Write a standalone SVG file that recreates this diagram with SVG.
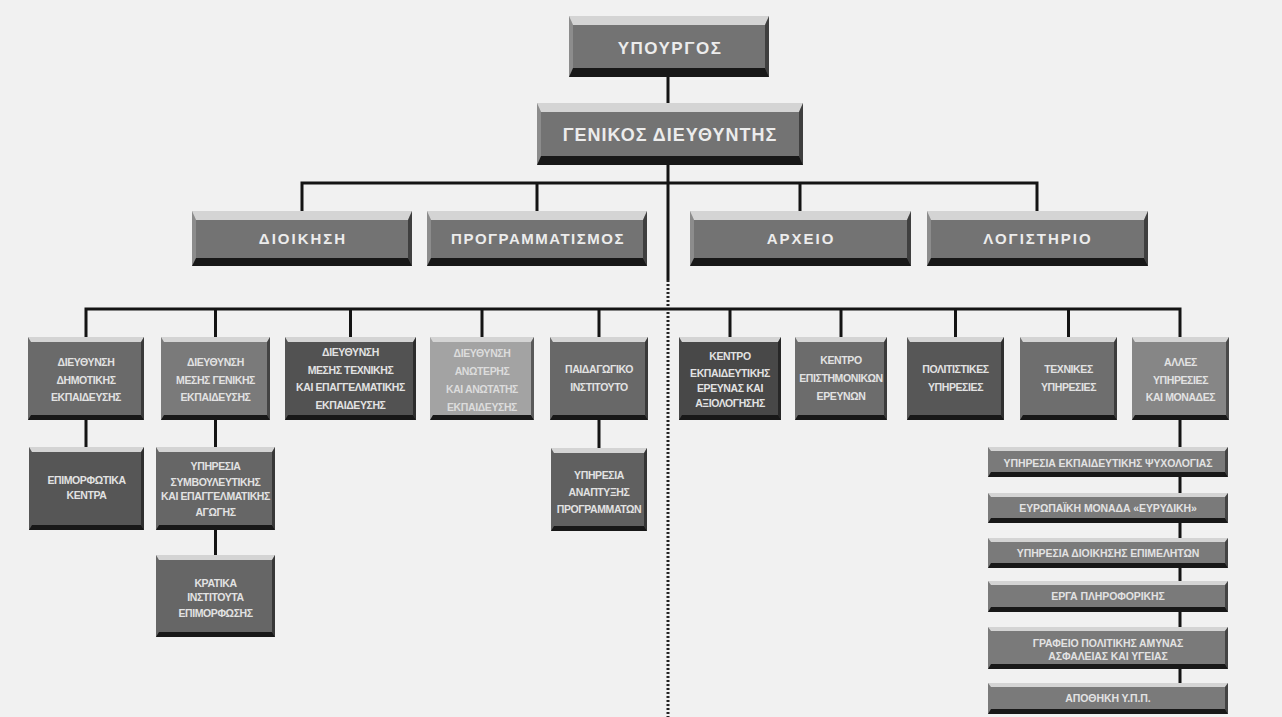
<svg xmlns="http://www.w3.org/2000/svg" width="1282" height="717" viewBox="0 0 1282 717">
<style>
.bg{fill:#f1f1f1}
.ln{stroke:#141414;stroke-width:3;fill:none}
.dot{stroke:#222;stroke-width:3;fill:none;stroke-dasharray:2 2}
.t{fill:#d4d4d4}
.b{fill:#181818}
.r{fill:#000;opacity:.45}
.l{fill:#fff;opacity:.18}
text{font-family:"Liberation Sans",Arial,sans-serif;font-weight:bold;fill:#ececec;text-anchor:middle}
.big{font-size:17px;letter-spacing:1.5px}
.mid{font-size:15px;letter-spacing:2px}
.sm{font-size:10.5px;letter-spacing:-0.4px;fill:#e2e2e2}
.rc{letter-spacing:-0.1px}
</style>
<rect class="bg" x="0" y="0" width="1282" height="717"/>
<g id="connectors">
<path class="ln" d="M668 77V103M668 165V280"/>
<path class="dot" d="M668 280V717"/>
<path class="ln" d="M302 211V183H1037V211M537 183V211M800 183V211"/>
<path class="ln" d="M86 337V309H1180V337M215.5 309V337M350.5 309V337M482 309V337M599 309V337M730 309V337M841 309V337M955.5 309V337M1068.5 309V337"/>
<path class="ln" d="M86 420V447M215.5 420V447M215.5 530V555M599 420V448M1180 420V683"/>
</g>
<g id="n-ypourgos">
<rect x="569" y="16" width="200" height="61" fill="#737373"/>
<polygon class="t" points="569,16 769,16 765,25 573,25"/>
<polygon class="b" points="569,77 769,77 765,68 573,68"/>
<polygon class="l" points="569,16 573,25 573,68 569,77"/>
<polygon class="r" points="769,16 765,25 765,68 769,77"/>
<text class="big" x="670" y="54">ΥΠΟΥΡΓΟΣ</text>
</g>
<g id="n-genikos">
<rect x="537" y="103" width="266" height="62" fill="#737373"/>
<polygon class="t" points="537,103 803,103 799,112 541,112"/>
<polygon class="b" points="537,165 803,165 799,156 541,156"/>
<polygon class="l" points="537,103 541,112 541,156 537,165"/>
<polygon class="r" points="803,103 799,112 799,156 803,165"/>
<text class="big" x="670" y="141" style="font-size:18px;letter-spacing:1px">ΓΕΝΙΚΟΣ ΔΙΕΥΘΥΝΤΗΣ</text>
</g>
<g id="n-dioikisi">
<rect x="192" y="211" width="220" height="55" fill="#737373"/>
<polygon class="t" points="192,211 412,211 408,220 196,220"/>
<polygon class="b" points="192,266 412,266 408,258 196,258"/>
<polygon class="l" points="192,211 196,220 196,258 192,266"/>
<polygon class="r" points="412,211 408,220 408,258 412,266"/>
<text class="mid" x="303" y="244">ΔΙΟΙΚΗΣΗ</text>
</g>
<g id="n-programmatismos">
<rect x="427" y="211" width="220" height="55" fill="#737373"/>
<polygon class="t" points="427,211 647,211 643,220 431,220"/>
<polygon class="b" points="427,266 647,266 643,258 431,258"/>
<polygon class="l" points="427,211 431,220 431,258 427,266"/>
<polygon class="r" points="647,211 643,220 643,258 647,266"/>
<text class="mid" x="538" y="244" style="letter-spacing:1.5px">ΠΡΟΓΡΑΜΜΑΤΙΣΜΟΣ</text>
</g>
<g id="n-arxeio">
<rect x="690" y="211" width="221" height="55" fill="#737373"/>
<polygon class="t" points="690,211 911,211 907,220 694,220"/>
<polygon class="b" points="690,266 911,266 907,258 694,258"/>
<polygon class="l" points="690,211 694,220 694,258 690,266"/>
<polygon class="r" points="911,211 907,220 907,258 911,266"/>
<text class="mid" x="801" y="244">ΑΡΧΕΙΟ</text>
</g>
<g id="n-logistirio">
<rect x="927" y="211" width="221" height="55" fill="#737373"/>
<polygon class="t" points="927,211 1148,211 1144,220 931,220"/>
<polygon class="b" points="927,266 1148,266 1144,258 931,258"/>
<polygon class="l" points="927,211 931,220 931,258 927,266"/>
<polygon class="r" points="1148,211 1144,220 1144,258 1148,266"/>
<text class="mid" x="1038" y="244">ΛΟΓΙΣΤΗΡΙΟ</text>
</g>
<g id="n-dimotiki">
<rect x="28" y="337" width="116" height="83" fill="#6a6a6a"/>
<polygon class="t" points="28,337 144,337 141,342 31,342"/>
<polygon class="b" points="28,420 144,420 141,415 31,415"/>
<polygon class="r" points="144,337 141,342 141,415 144,420"/>
<text class="sm"><tspan x="86" y="366">ΔΙΕΥΘΥΝΣΗ</tspan><tspan x="86" y="384">ΔΗΜΟΤΙΚΗΣ</tspan><tspan x="86" y="401">ΕΚΠΑΙΔΕΥΣΗΣ</tspan></text>
</g>
<g id="n-mesi-geniki">
<rect x="161" y="337" width="109" height="83" fill="#7a7a7a"/>
<polygon class="t" points="161,337 270,337 267,342 164,342"/>
<polygon class="b" points="161,420 270,420 267,415 164,415"/>
<polygon class="r" points="270,337 267,342 267,415 270,420"/>
<text class="sm"><tspan x="215.5" y="366">ΔΙΕΥΘΥΝΣΗ</tspan><tspan x="215.5" y="384">ΜΕΣΗΣ ΓΕΝΙΚΗΣ</tspan><tspan x="215.5" y="401">ΕΚΠΑΙΔΕΥΣΗΣ</tspan></text>
</g>
<g id="n-mesi-texniki">
<rect x="285" y="337" width="131" height="83" fill="#525252"/>
<polygon class="t" points="285,337 416,337 413,342 288,342"/>
<polygon class="b" points="285,420 416,420 413,415 288,415"/>
<polygon class="r" points="416,337 413,342 413,415 416,420"/>
<text class="sm"><tspan x="350.5" y="356">ΔΙΕΥΘΥΝΣΗ</tspan><tspan x="350.5" y="374">ΜΕΣΗΣ ΤΕΧΝΙΚΗΣ</tspan><tspan x="350.5" y="391">ΚΑΙ ΕΠΑΓΓΕΛΜΑΤΙΚΗΣ</tspan><tspan x="350.5" y="409">ΕΚΠΑΙΔΕΥΣΗΣ</tspan></text>
</g>
<g id="n-anoteri">
<rect x="430" y="337" width="104" height="83" fill="#a3a3a3"/>
<polygon class="t" points="430,337 534,337 531,342 433,342"/>
<polygon class="b" points="430,420 534,420 531,415 433,415"/>
<polygon class="r" points="534,337 531,342 531,415 534,420"/>
<text class="sm" style="fill:#dcdcdc"><tspan x="482" y="357">ΔΙΕΥΘΥΝΣΗ</tspan><tspan x="482" y="375">ΑΝΩΤΕΡΗΣ</tspan><tspan x="482" y="393">ΚΑΙ ΑΝΩΤΑΤΗΣ</tspan><tspan x="482" y="411">ΕΚΠΑΙΔΕΥΣΗΣ</tspan></text>
</g>
<g id="n-paidagogiko">
<rect x="550" y="337" width="98" height="83" fill="#686868"/>
<polygon class="t" points="550,337 648,337 645,342 553,342"/>
<polygon class="b" points="550,420 648,420 645,415 553,415"/>
<polygon class="r" points="648,337 645,342 645,415 648,420"/>
<text class="sm"><tspan x="599" y="373">ΠΑΙΔΑΓΩΓΙΚΟ</tspan><tspan x="599" y="391">ΙΝΣΤΙΤΟΥΤΟ</tspan></text>
</g>
<g id="n-kentro-ekp">
<rect x="679" y="337" width="102" height="83" fill="#484848"/>
<polygon class="t" points="679,337 781,337 778,342 682,342"/>
<polygon class="b" points="679,420 781,420 778,415 682,415"/>
<polygon class="r" points="781,337 778,342 778,415 781,420"/>
<text class="sm"><tspan x="730" y="360">ΚΕΝΤΡΟ</tspan><tspan x="730" y="377">ΕΚΠΑΙΔΕΥΤΙΚΗΣ</tspan><tspan x="730" y="392">ΕΡΕΥΝΑΣ ΚΑΙ</tspan><tspan x="730" y="407">ΑΞΙΟΛΟΓΗΣΗΣ</tspan></text>
</g>
<g id="n-kentro-epist">
<rect x="795" y="337" width="92" height="83" fill="#6c6c6c"/>
<polygon class="t" points="795,337 887,337 884,342 798,342"/>
<polygon class="b" points="795,420 887,420 884,415 798,415"/>
<polygon class="r" points="887,337 884,342 884,415 887,420"/>
<text class="sm"><tspan x="841" y="364">ΚΕΝΤΡΟ</tspan><tspan x="841" y="382">ΕΠΙΣΤΗΜΟΝΙΚΩΝ</tspan><tspan x="841" y="400">ΕΡΕΥΝΩΝ</tspan></text>
</g>
<g id="n-politistikes">
<rect x="907" y="337" width="97" height="83" fill="#575757"/>
<polygon class="t" points="907,337 1004,337 1001,342 910,342"/>
<polygon class="b" points="907,420 1004,420 1001,415 910,415"/>
<polygon class="r" points="1004,337 1001,342 1001,415 1004,420"/>
<text class="sm"><tspan x="955.5" y="373">ΠΟΛΙΤΙΣΤΙΚΕΣ</tspan><tspan x="955.5" y="391">ΥΠΗΡΕΣΙΕΣ</tspan></text>
</g>
<g id="n-texnikes">
<rect x="1020" y="337" width="97" height="83" fill="#6e6e6e"/>
<polygon class="t" points="1020,337 1117,337 1114,342 1023,342"/>
<polygon class="b" points="1020,420 1117,420 1114,415 1023,415"/>
<polygon class="r" points="1117,337 1114,342 1114,415 1117,420"/>
<text class="sm"><tspan x="1068.5" y="373">ΤΕΧΝΙΚΕΣ</tspan><tspan x="1068.5" y="391">ΥΠΗΡΕΣΙΕΣ</tspan></text>
</g>
<g id="n-alles">
<rect x="1132" y="337" width="97" height="83" fill="#868686"/>
<polygon class="t" points="1132,337 1229,337 1226,342 1135,342"/>
<polygon class="b" points="1132,420 1229,420 1226,415 1135,415"/>
<polygon class="r" points="1229,337 1226,342 1226,415 1229,420"/>
<text class="sm"><tspan x="1180.5" y="366">ΑΛΛΕΣ</tspan><tspan x="1180.5" y="384">ΥΠΗΡΕΣΙΕΣ</tspan><tspan x="1180.5" y="401">ΚΑΙ ΜΟΝΑΔΕΣ</tspan></text>
</g>
<g id="n-epimorfotika">
<rect x="29" y="447" width="115" height="83" fill="#565656"/>
<polygon class="t" points="29,447 144,447 141,452 32,452"/>
<polygon class="b" points="29,530 144,530 141,525 32,525"/>
<polygon class="r" points="144,447 141,452 141,525 144,530"/>
<text class="sm"><tspan x="86.5" y="484">ΕΠΙΜΟΡΦΩΤΙΚΑ</tspan><tspan x="86.5" y="499">ΚΕΝΤΡΑ</tspan></text>
</g>
<g id="n-symvouleytikis">
<rect x="156" y="447" width="119" height="83" fill="#666666"/>
<polygon class="t" points="156,447 275,447 272,452 159,452"/>
<polygon class="b" points="156,530 275,530 272,525 159,525"/>
<polygon class="r" points="275,447 272,452 272,525 275,530"/>
<text class="sm"><tspan x="215.5" y="470">ΥΠΗΡΕΣΙΑ</tspan><tspan x="215.5" y="486">ΣΥΜΒΟΥΛΕΥΤΙΚΗΣ</tspan><tspan x="215.5" y="500">ΚΑΙ ΕΠΑΓΓΕΛΜΑΤΙΚΗΣ</tspan><tspan x="215.5" y="516">ΑΓΩΓΗΣ</tspan></text>
</g>
<g id="n-kratika">
<rect x="156" y="555" width="119" height="82" fill="#666666"/>
<polygon class="t" points="156,555 275,555 272,560 159,560"/>
<polygon class="b" points="156,637 275,637 272,632 159,632"/>
<polygon class="r" points="275,555 272,560 272,632 275,637"/>
<text class="sm"><tspan x="215.5" y="587">ΚΡΑΤΙΚΑ</tspan><tspan x="215.5" y="601">ΙΝΣΤΙΤΟΥΤΑ</tspan><tspan x="215.5" y="617">ΕΠΙΜΟΡΦΩΣΗΣ</tspan></text>
</g>
<g id="n-anaptyxis">
<rect x="551" y="448" width="96" height="83" fill="#606060"/>
<polygon class="t" points="551,448 647,448 644,453 554,453"/>
<polygon class="b" points="551,531 647,531 644,526 554,526"/>
<polygon class="r" points="647,448 644,453 644,526 647,531"/>
<text class="sm"><tspan x="599" y="479">ΥΠΗΡΕΣΙΑ</tspan><tspan x="599" y="496">ΑΝΑΠΤΥΞΗΣ</tspan><tspan x="599" y="513">ΠΡΟΓΡΑΜΜΑΤΩΝ</tspan></text>
</g>
<g id="n-psyxologias">
<rect x="988" y="447" width="240" height="30" fill="#7a7a7a"/>
<polygon class="t" points="988,447 1228,447 1225,451 991,451"/>
<polygon class="b" points="988,477 1228,477 1225,472 991,472"/>
<polygon class="r" points="1228,447 1225,451 1225,472 1228,477"/>
<text class="sm rc" x="1108" y="467">ΥΠΗΡΕΣΙΑ ΕΚΠΑΙΔΕΥΤΙΚΗΣ ΨΥΧΟΛΟΓΙΑΣ</text>
</g>
<g id="n-eyrydiki">
<rect x="988" y="493" width="240" height="30" fill="#7a7a7a"/>
<polygon class="t" points="988,493 1228,493 1225,497 991,497"/>
<polygon class="b" points="988,523 1228,523 1225,518 991,518"/>
<polygon class="r" points="1228,493 1225,497 1225,518 1228,523"/>
<text class="sm rc" x="1108" y="512">ΕΥΡΩΠΑΪΚΗ ΜΟΝΑΔΑ «ΕΥΡΥΔΙΚΗ»</text>
</g>
<g id="n-epimeliton">
<rect x="988" y="538" width="240" height="30" fill="#7a7a7a"/>
<polygon class="t" points="988,538 1228,538 1225,542 991,542"/>
<polygon class="b" points="988,568 1228,568 1225,563 991,563"/>
<polygon class="r" points="1228,538 1225,542 1225,563 1228,568"/>
<text class="sm rc" x="1108" y="557">ΥΠΗΡΕΣΙΑ ΔΙΟΙΚΗΣΗΣ ΕΠΙΜΕΛΗΤΩΝ</text>
</g>
<g id="n-pliroforikis">
<rect x="988" y="581" width="240" height="31" fill="#7a7a7a"/>
<polygon class="t" points="988,581 1228,581 1225,585 991,585"/>
<polygon class="b" points="988,612 1228,612 1225,607 991,607"/>
<polygon class="r" points="1228,581 1225,585 1225,607 1228,612"/>
<text class="sm rc" x="1108" y="600">ΕΡΓΑ ΠΛΗΡΟΦΟΡΙΚΗΣ</text>
</g>
<g id="n-amynas">
<rect x="988" y="627" width="240" height="42" fill="#7a7a7a"/>
<polygon class="t" points="988,627 1228,627 1225,631 991,631"/>
<polygon class="b" points="988,669 1228,669 1225,664 991,664"/>
<polygon class="r" points="1228,627 1225,631 1225,664 1228,669"/>
<text class="sm rc"><tspan x="1108" y="647">ΓΡΑΦΕΙΟ ΠΟΛΙΤΙΚΗΣ ΑΜΥΝΑΣ</tspan><tspan x="1108" y="660">ΑΣΦΑΛΕΙΑΣ ΚΑΙ ΥΓΕΙΑΣ</tspan></text>
</g>
<g id="n-apothiki">
<rect x="988" y="683" width="240" height="31" fill="#7a7a7a"/>
<polygon class="t" points="988,683 1228,683 1225,687 991,687"/>
<polygon class="b" points="988,714 1228,714 1225,709 991,709"/>
<polygon class="r" points="1228,683 1225,687 1225,709 1228,714"/>
<text class="sm rc" x="1108" y="702">ΑΠΟΘΗΚΗ Υ.Π.Π.</text>
</g>
</svg>
